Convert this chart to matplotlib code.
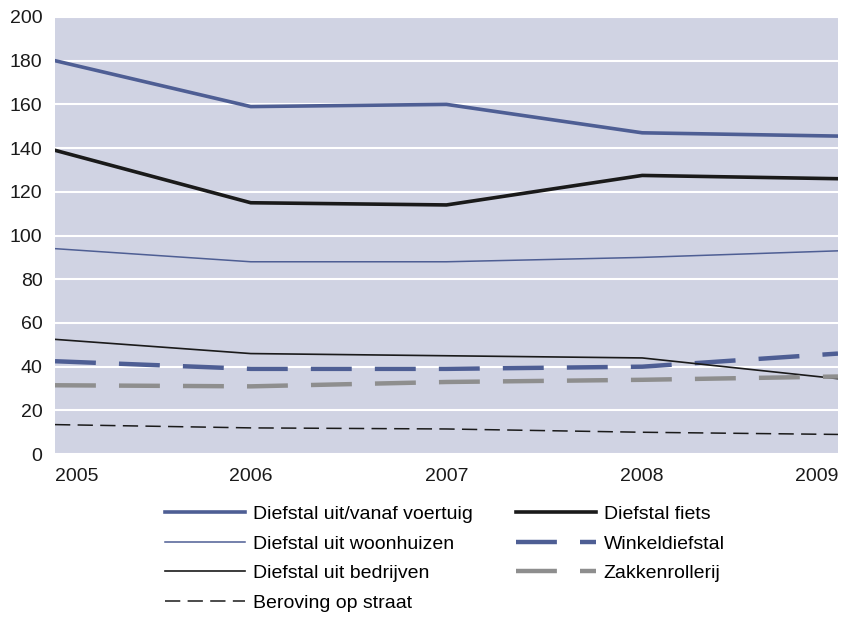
import matplotlib.pyplot as plt

plt.rcParams['font.family'] = ['Liberation Sans', 'DejaVu Sans']

jaren = [2005, 2006, 2007, 2008, 2009]
voertuig = [180, 159, 160, 147, 145.5]
fiets = [139, 115, 114, 127.5, 126]
woonhuizen = [94, 88, 88, 90, 93]
bedrijven = [52.5, 46, 45, 44, 34.5]
winkeldiefstal = [42.5, 39, 39, 40, 46]
zakkenrollerij = [31.5, 31, 33, 34, 35.5]
beroving = [13.5, 12, 11.5, 10, 9]

blauw = '#4e5e94'
zwart = '#1a1a1a'
grijs = '#8e8e8e'

fig = plt.figure(figsize=(8.41, 6.17), dpi=100)
ax = fig.add_axes([0.0654, 0.264, 0.931, 0.7085])
ax.set_facecolor('#d0d3e3')

l1, = ax.plot(jaren, voertuig, color=blauw, lw=2.6, label='Diefstal uit/vanaf voertuig')
l2, = ax.plot(jaren, fiets, color=zwart, lw=2.6, label='Diefstal fiets')
l3, = ax.plot(jaren, woonhuizen, color=blauw, lw=1.1, label='Diefstal uit woonhuizen')
l4, = ax.plot(jaren, winkeldiefstal, color=blauw, lw=3.2, dashes=(9.2, 5.2), label='Winkeldiefstal')
l5, = ax.plot(jaren, bedrijven, color=zwart, lw=1.2, label='Diefstal uit bedrijven')
l6, = ax.plot(jaren, zakkenrollerij, color=grijs, lw=3.2, dashes=(9.2, 5.2), label='Zakkenrollerij')
l7, = ax.plot(jaren, beroving, color=zwart, lw=1.1, dashes=(10, 4.8), label='Beroving op straat')

ax.set_xlim(2005, 2009)
ax.set_ylim(0, 200)
ax.set_yticks(range(0, 201, 20))
ax.set_xticks(jaren)
ax.grid(axis='y', color='white', lw=1.5)
ax.set_axisbelow(True)
for s in ax.spines.values():
    s.set_visible(False)
ax.tick_params(length=0, labelsize=14, colors='#1a1a1a')
ax.tick_params(axis='y', pad=9)
ax.tick_params(axis='x', pad=10)
xlabels = ax.get_xticklabels()
xlabels[0].set_ha('left')
xlabels[-1].set_ha('right')

# kolomsgewijs gevuld, dus volgorde aanpassen
handles = [l1, l3, l5, l7, l2, l4, l6]
ax.legend(handles=handles, loc='upper left', bbox_to_anchor=(0.1405, -0.117), ncol=2,
          frameon=False, fontsize=14, handlelength=4.1, handletextpad=0.4,
          columnspacing=2.25, labelspacing=0.62, borderaxespad=0, borderpad=0)

fig.savefig('out.png', dpi=100)
